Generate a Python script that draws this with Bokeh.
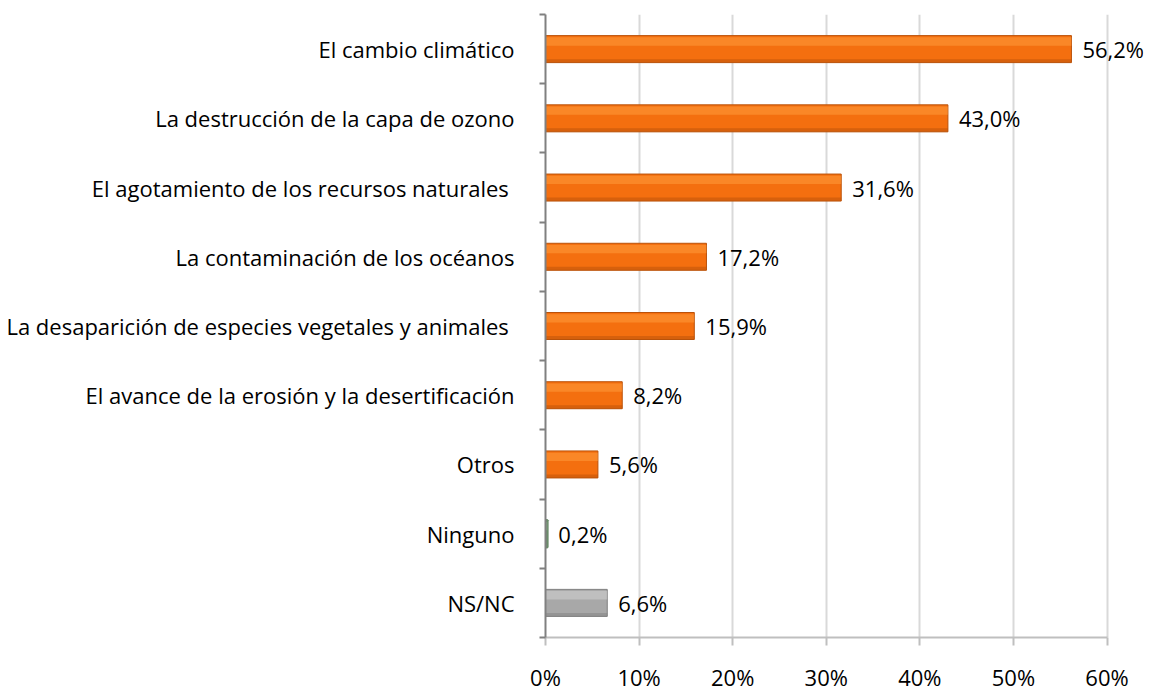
from bokeh.plotting import figure
from bokeh.models import ColumnDataSource, FixedTicker, Range1d, NumeralTickFormatter
from bokeh.core.properties import value
from bokeh.embed import file_html
from bokeh.resources import INLINE

categories = [
    "El cambio climático",
    "La destrucción de la capa de ozono",
    "El agotamiento  de los recursos naturales",
    "La contaminación de los océanos",
    "La desaparición de especies vegetales y animales ",
    "El avance de la erosión y la desertificación",
    "Otros",
    "Ninguno",
    "NS/NC",
]
values = [56.2, 43.0, 31.6, 17.2, 15.9, 8.2, 5.6, 0.2, 6.6]
labels = ["56,2%", "43,0%", "31,6%", "17,2%", "15,9%", "8,2%", "5,6%", "0,2%", "6,6%"]
fills = ["#F46F0F"] * 7 + ["#6E8F6E", "#A8A8A8"]
tops = ["#FFA040"] * 7 + ["#8FB08F", "#D6D6D6"]
bottoms = ["#BA520A"] * 7 + ["#6A8C6A", "#7F7F7F"]
edge_w = [1] * 7 + [2.5, 1]
xticks = [0, 10, 20, 30, 40, 50, 60]

n = len(categories)
ypos = [n - 1 - i + 0.5 for i in range(n)]
FONT = "Open Sans"
FS = "22px"

src = ColumnDataSource(dict(y=ypos, v=values, lab=labels, fill=fills, top=tops, bot=bottoms, lw=edge_w,
                            ytop=[y + 0.11 for y in ypos], ybot=[y - 0.17 for y in ypos]))

p = figure(width=1145, height=694, output_backend="svg", toolbar_location=None,
           x_range=Range1d(0, 63.9), y_range=Range1d(0, n),
           min_border_left=545, min_border_right=2, min_border_top=14, min_border_bottom=40)
p.outline_line_color = None
p.background_fill_color = "white"

p.hbar(y="y", right="v", left=0, height=0.39, source=src, fill_color="fill", line_color="bot", line_width="lw")
p.hbar(y="ytop", right="v", left=0, height=0.12, source=src, fill_color="top", line_color=None, fill_alpha=0.5)
p.hbar(y="ybot", right="v", left=0, height=0.05, source=src, fill_color="bot", line_color=None, fill_alpha=0.5)

p.text(x="v", y="y", text="lab", source=src, x_offset=11, text_align="left", text_baseline="middle",
       text_font=value(FONT), text_font_size=FS, text_color="#000000")

# x axis
p.xaxis.ticker = FixedTicker(ticks=xticks)
p.xaxis.bounds = (0, 60)
p.xaxis.formatter = NumeralTickFormatter(format="0")
p.xaxis.major_label_overrides = {t: f"{t}%" for t in xticks}
p.xaxis.axis_line_color = "#BFBFBF"
p.xaxis.axis_line_width = 2
p.xaxis.major_tick_line_color = "#BFBFBF"
p.xaxis.major_tick_line_width = 2
p.xaxis.major_tick_out = 8
p.xaxis.major_tick_in = 0
p.xaxis.minor_tick_line_color = None
p.xaxis.major_label_standoff = 16
p.xaxis.major_label_text_font = FONT
p.xaxis.major_label_text_font_size = FS
p.xaxis.major_label_text_color = "#000000"

# y axis
p.yaxis.ticker = FixedTicker(ticks=ypos, minor_ticks=list(range(n + 1)))
p.yaxis.major_label_overrides = {y: c for y, c in zip(ypos, categories)}
p.yaxis.axis_line_color = "#808080"
p.yaxis.axis_line_width = 2
p.yaxis.major_tick_line_color = None
p.yaxis.minor_tick_line_color = "#808080"
p.yaxis.minor_tick_line_width = 2
p.yaxis.minor_tick_out = 6
p.yaxis.minor_tick_in = 0
p.yaxis.major_label_standoff = 25
p.yaxis.major_label_text_font = FONT
p.yaxis.major_label_text_font_size = FS
p.yaxis.major_label_text_color = "#000000"

p.xgrid.grid_line_color = "#D9D9D9"
p.xgrid.grid_line_width = 2
p.xgrid.bounds = (0, 60)
p.ygrid.grid_line_color = None

open("out.html", "w").write(file_html(p, INLINE))
